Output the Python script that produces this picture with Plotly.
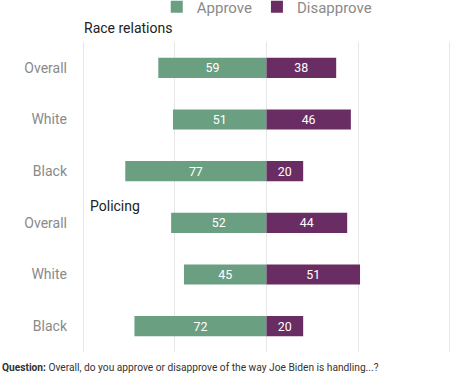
import plotly.graph_objects as go

groups = ["Overall", "White", "Black", "Overall", "White", "Black"]
approve = [59, 51, 77, 52, 45, 72]
disapprove = [38, 46, 20, 44, 51, 20]
pos = list(range(len(groups)))

green = "#6b9f82"
purple = "#6a2d63"

fig = go.Figure()
fig.add_trace(go.Bar(
    y=pos, x=[-a for a in approve], orientation="h", name="Approve",
    marker=dict(color=green, line=dict(width=0)),
    text=[str(a) for a in approve], textposition="inside", insidetextanchor="middle",
    textangle=0, textfont=dict(color="white", size=14), hoverinfo="skip"))
fig.add_trace(go.Bar(
    y=pos, x=disapprove, orientation="h", name="Disapprove",
    marker=dict(color=purple, line=dict(width=0)),
    text=[str(d) for d in disapprove], textposition="inside", insidetextanchor="middle",
    textangle=0, textfont=dict(color="white", size=14), hoverinfo="skip"))

fig.update_layout(
    width=456, height=374,
    margin=dict(l=82, r=5, t=42, b=22, autoexpand=False),
    barmode="relative", bargap=0.61,
    paper_bgcolor="white", plot_bgcolor="white",
    font=dict(family="Roboto, Arial, sans-serif", color="#888888"),
    showlegend=True,
    legend=dict(orientation="h", xref="container", x=0.585, xanchor="center",
                yref="container", y=0.981, yanchor="middle",
                font=dict(size=15, color="#8a8a8a"), itemwidth=30,
                traceorder="normal"),
)
fig.update_xaxes(range=[-100.6, 100.6], tickvals=[-100, -50, 0, 50, 100], showticklabels=False,
                 showgrid=True, gridcolor="#e6e6e6", gridwidth=1, automargin=False,
                 zeroline=True, zerolinecolor="#e6e6e6", zerolinewidth=1, fixedrange=True)
fig.update_yaxes(tickvals=pos, ticktext=groups, autorange=False, range=[5.5, -0.5],
                 showgrid=False, zeroline=False, ticks="", ticklabelstandoff=14, automargin=False,
                 tickfont=dict(size=14, color="#8a8a8a"), fixedrange=True)

fig.add_annotation(text="Race relations", xref="paper", yref="paper", x=0.0, y=1.013,
                   xanchor="left", yanchor="bottom", showarrow=False,
                   font=dict(size=14, color="#222222"), xshift=0)
fig.add_annotation(text="Policing", xref="paper", yref="paper", x=0.0, y=0.44,
                   xanchor="left", yanchor="bottom", showarrow=False,
                   font=dict(size=14, color="#222222"), xshift=6)
fig.add_annotation(text="<b>Question:</b> Overall, do you approve or disapprove of the way Joe Biden is handling...?",
                   xref="paper", yref="paper", x=0, y=0, xanchor="left", yanchor="top",
                   showarrow=False, font=dict(size=10.2, color="#333333"), xshift=-82, yshift=-8)

fig.write_html("out.html", config={"displayModeBar": False},
               post_script="document.body.style.margin='0';document.body.style.padding='0';")
